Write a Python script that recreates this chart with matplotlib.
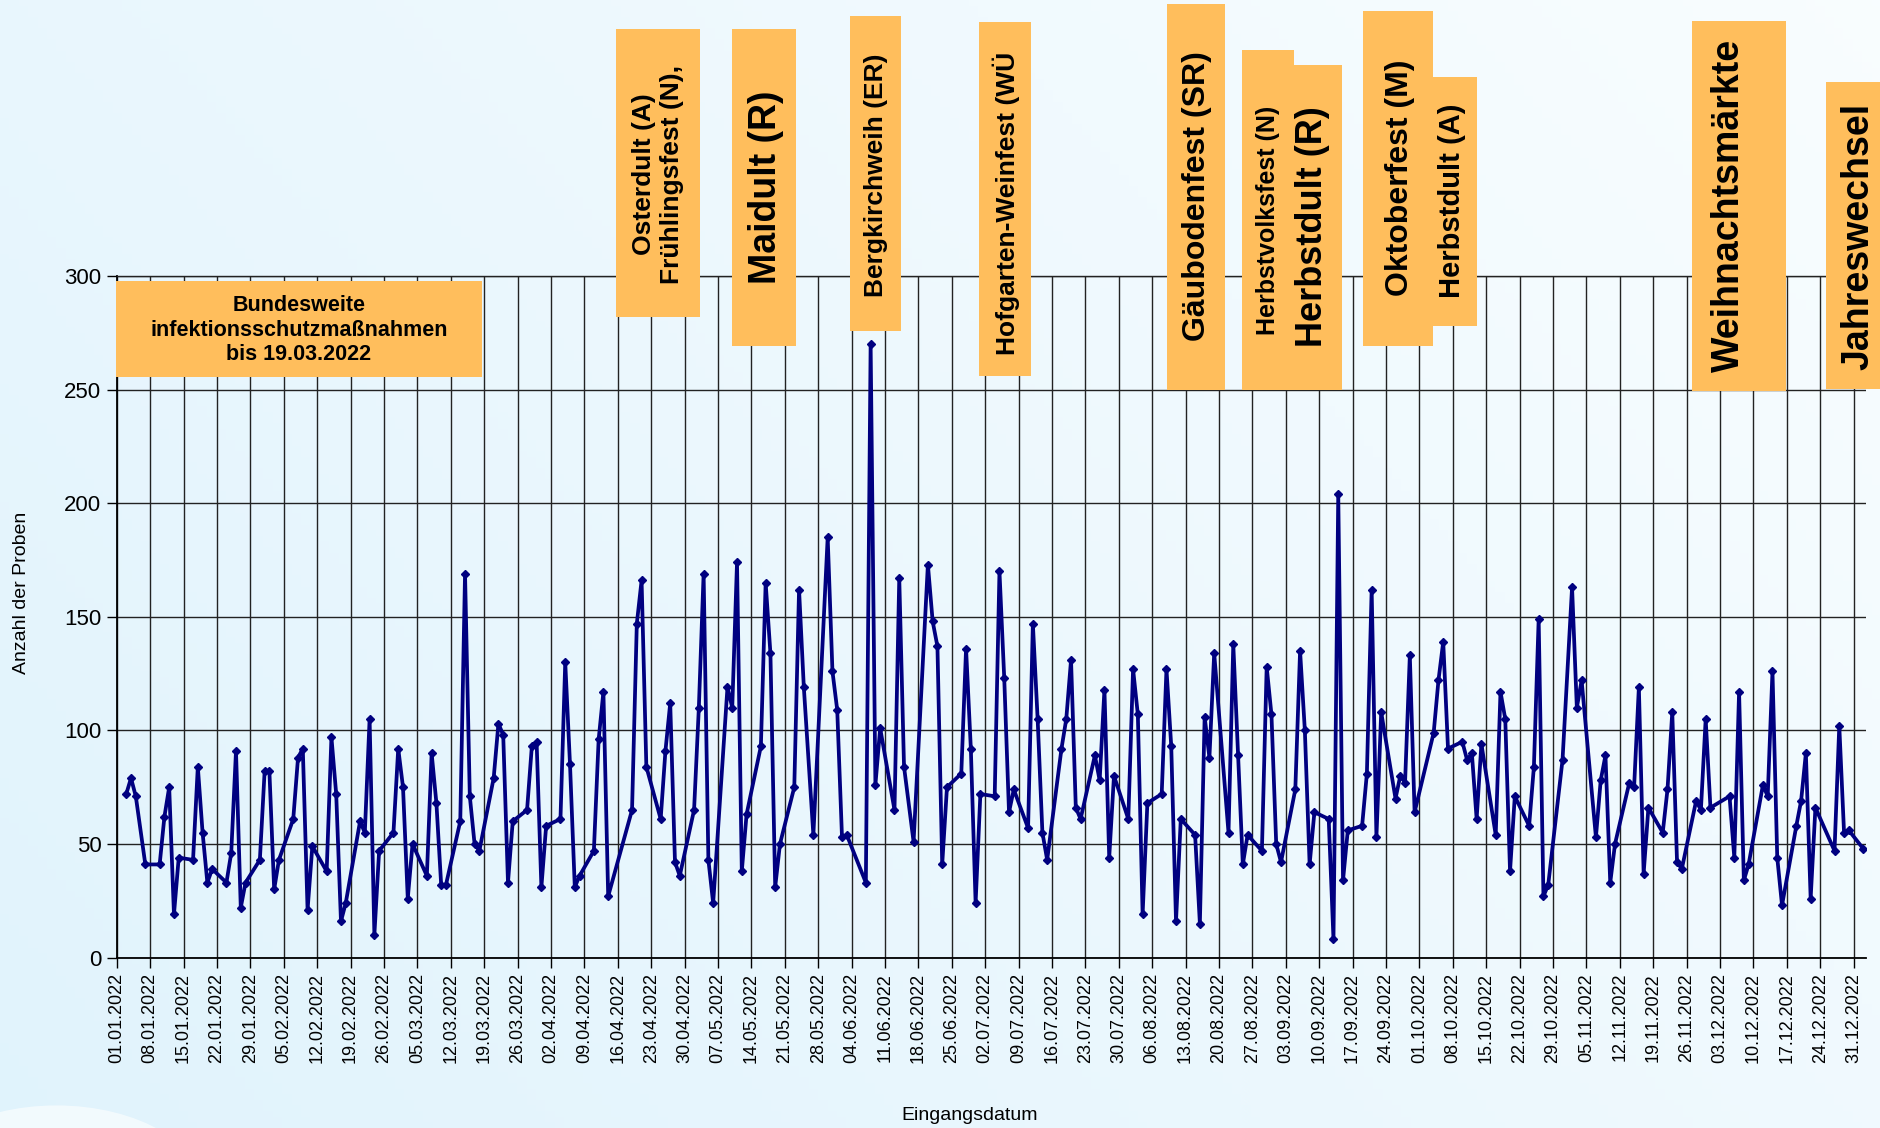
import numpy as np
import pandas as pd
import matplotlib
matplotlib.use("Agg")
import matplotlib.pyplot as plt
from matplotlib.patches import Rectangle, Ellipse
from matplotlib.transforms import Affine2D

plt.rcParams['font.family'] = ['Liberation Sans', 'DejaVu Sans']

# Tage ab 01.01.2022 und Anzahl der Proben
tage = [2, 3, 4, 6, 9, 10, 11, 12, 13, 16, 17, 18, 19, 20, 23, 24, 25, 26, 27,
        30, 31, 32, 33, 34, 37, 38, 39, 40, 41, 44, 45, 46, 47, 48, 51, 52, 53,
        54, 55, 58, 59, 60, 61, 62, 65, 66, 67, 68, 69, 72, 73, 74, 75, 76, 79,
        80, 81, 82, 83, 86, 87, 88, 89, 90, 93, 94, 95, 96, 97, 100, 101, 102,
        103, 108, 109, 110, 111, 114, 115, 116, 117, 118, 121, 122, 123, 124,
        125, 128, 129, 130, 131, 132, 135, 136, 137, 138, 139, 142, 143, 144,
        146, 149, 150, 151, 152, 153, 157, 158, 159, 160, 163, 164, 165, 167,
        170, 171, 172, 173, 174, 177, 178, 179, 180, 181, 184, 185, 186, 187,
        188, 191, 192, 193, 194, 195, 198, 199, 200, 201, 202, 205, 206, 207,
        208, 209, 212, 213, 214, 215, 216, 219, 220, 221, 222, 223, 226, 227,
        228, 229, 230, 233, 234, 235, 236, 237, 240, 241, 242, 243, 244, 247,
        248, 249, 250, 251, 254, 255, 256, 257, 258, 261, 262, 263, 264, 265,
        268, 269, 270, 271, 272, 276, 277, 278, 279, 282, 283, 284, 285, 286,
        289, 290, 291, 292, 293, 296, 297, 298, 299, 300, 303, 305, 306, 307,
        310, 311, 312, 313, 314, 317, 318, 319, 320, 321, 324, 325, 326, 327,
        328, 331, 332, 333, 334, 338, 339, 340, 341, 342, 345, 346, 347, 348,
        349, 352, 353, 354, 355, 356, 360, 361, 362, 363, 366]
proben = [72, 79, 71, 41, 41, 62, 75, 19, 44, 43, 84, 55, 33, 39, 33, 46, 91, 22, 33,
          43, 82, 82, 30, 43, 61, 88, 92, 21, 49, 38, 97, 72, 16, 24, 60, 55, 105,
          10, 47, 55, 92, 75, 26, 50, 36, 90, 68, 32, 32, 60, 169, 71, 50, 47, 79,
          103, 98, 33, 60, 65, 93, 95, 31, 58, 61, 130, 85, 31, 36, 47, 96, 117,
          27, 65, 147, 166, 84, 61, 91, 112, 42, 36, 65, 110, 169, 43,
          24, 119, 110, 174, 38, 63, 93, 165, 134, 31, 50, 75, 162, 119,
          54, 185, 126, 109, 53, 54, 33, 270, 76, 101, 65, 167, 84, 51,
          173, 148, 137, 41, 75, 81, 136, 92, 24, 72, 71, 170, 123, 64,
          74, 57, 147, 105, 55, 43, 92, 105, 131, 66, 61, 89, 78, 118,
          44, 80, 61, 127, 107, 19, 68, 72, 127, 93, 16, 61, 54, 15,
          106, 88, 134, 55, 138, 89, 41, 54, 47, 128, 107, 50, 42, 74,
          135, 100, 41, 64, 61, 8, 204, 34, 56, 58, 81, 162, 53, 108,
          70, 80, 77, 133, 64, 99, 122, 139, 92, 95, 87, 90, 61, 94,
          54, 117, 105, 38, 71, 58, 84, 149, 27, 32, 87, 163, 110, 122,
          53, 78, 89, 33, 50, 77, 75, 119, 37, 66, 55, 74, 108, 42,
          39, 69, 65, 105, 66, 71, 44, 117, 34, 41, 76, 71, 126, 44,
          23, 58, 69, 90, 26, 66, 47, 102, 55, 56, 48]

start = pd.Timestamp('2022-01-01')
datum = start + pd.to_timedelta(tage, unit='D')
tick_datum = pd.date_range('2022-01-01', '2022-12-31', freq='7D')
y_ticks = [0, 50, 100, 150, 200, 250, 300]

W, H = 1881, 1128
fig = plt.figure(figsize=(W / 100, H / 100), dpi=100)
pix = Affine2D().scale(1 / W, -1 / H).translate(0, 1) + fig.transFigure

# hellblauer Hintergrund mit Verlauf
bg = fig.add_axes([0, 0, 1, 1], zorder=-10)
xx, yy = np.meshgrid(np.linspace(0, 1, 200), np.linspace(0, 1, 200))
t = np.clip(0.65 * xx + 0.35 * yy, 0, 1)[..., None]
c0 = np.array([0.88, 0.953, 0.99])
c1 = np.array([0.975, 0.993, 1.0])
bg.imshow(c0 * (1 - t) + c1 * t, extent=[0, 1, 0, 1], origin='lower', aspect='auto')
bg.set_xlim(0, 1)
bg.set_ylim(0, 1)
bg.add_patch(Ellipse((0.03, -0.06), 0.16, 0.16, facecolor='white', alpha=0.6,
                     edgecolor='none'))
bg.axis('off')

ax = fig.add_axes([116.7 / W, 1 - 957.6 / H, (1866 - 116.7) / W, (957.6 - 276) / H])
ax.set_facecolor('none')
ax.plot(datum, proben, color='#000080', lw=2.7, marker='D', markersize=4.5, zorder=3)

ax.set_xlim(start, start + pd.Timedelta(days=366.6))
ax.set_ylim(0, 300)
ax.set_xticks(tick_datum)
ax.set_xticklabels([d.strftime('%d.%m.%Y') for d in tick_datum], rotation=90)
ax.set_yticks(y_ticks)
ax.tick_params(axis='x', labelsize=13, length=7, width=1, color='black', pad=4)
ax.tick_params(axis='y', labelsize=16, length=7, width=1, color='black', pad=4)
ax.grid(True, color='#222222', lw=1.0, zorder=1)
ax.set_axisbelow(True)
ax.spines['right'].set_visible(False)
ax.spines['top'].set_color('#222222')
ax.spines['top'].set_linewidth(1.0)
for s in ['left', 'bottom']:
    ax.spines[s].set_color('black')
    ax.spines[s].set_linewidth(1.3)

fig.text(22, 593, 'Anzahl der Proben', transform=pix, rotation=90,
         ha='center', va='center', fontsize=14)
fig.text(970, 1116, 'Eingangsdatum', transform=pix, ha='center', va='center', fontsize=14)

orange = '#FFBE5C'


def box(x0, x1, y0, y1):
    fig.add_artist(Rectangle((x0, y0), x1 - x0, y1 - y0, transform=pix,
                             facecolor=orange, edgecolor='none', zorder=5))


def label(x, y, s, size, rot=90):
    fig.text(x, y, s, transform=pix, rotation=rot, ha='center', va='center',
             fontsize=size, fontweight='bold', multialignment='center', zorder=6)


box(116, 482, 281, 377)
label(299, 330, 'Bundesweite\ninfektionsschutzmaßnahmen\nbis 19.03.2022', 15.5, rot=0)

box(616, 700, 29, 317)
label(658, 174, 'Osterdult (A)\nFrühlingsfest (N),', 19)

box(732, 796, 29, 346)
label(766, 187, 'Maidult (R)', 27)

box(850, 901, 16, 331)
label(876, 175, 'Bergkirchweih (ER)', 19)

box(979, 1031, 22, 376)
label(1006, 203, 'Hofgarten-Weinfest (WÜ', 19)

box(1167, 1225, 4, 390)
label(1197, 196, 'Gäubodenfest (SR)', 23)

box(1242, 1294, 50, 390)
box(1294, 1342, 65, 390)
label(1268, 220, 'Herbstvolksfest (N)', 18)
label(1312, 227, 'Herbstdult (R)', 26)

box(1363, 1433, 11, 346)
box(1433, 1477, 77, 326)
label(1400, 178, 'Oktoberfest (M)', 23)
label(1452, 201, 'Herbstdult (A)', 21)

box(1692, 1786, 21, 391)
label(1729, 205, 'Weihnachtsmärkte', 27)

box(1826, 1881, 82, 389)
label(1858, 236, 'Jahreswechsel', 27)

fig.savefig('out.png', dpi=100)
